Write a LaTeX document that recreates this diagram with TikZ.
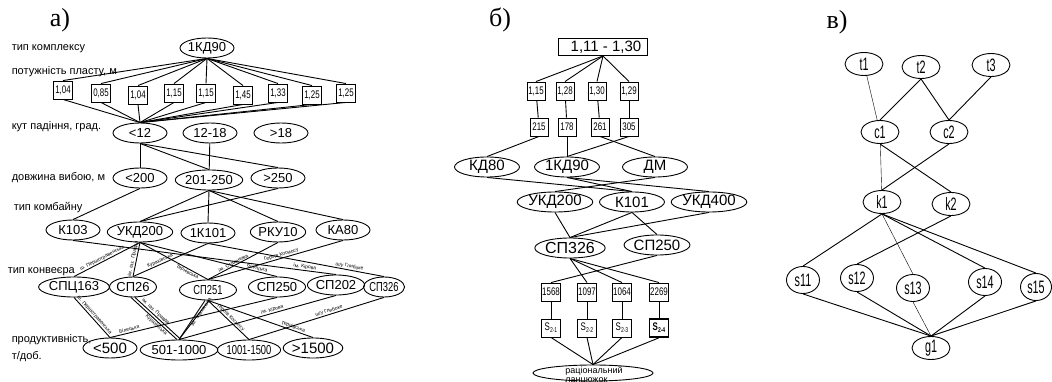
\documentclass[tikz,border=0pt]{standalone}
\usepackage{fontspec}
\setmainfont{Liberation Sans}
\newfontfamily\serifletter{Liberation Serif}
\newfontfamily\narrowsf[FakeStretch=0.72]{Liberation Sans}
\newfontfamily\narrowvx[FakeStretch=0.6]{Liberation Sans}
\usetikzlibrary{shapes.geometric}

\begin{document}
\begin{tikzpicture}[x=1pt,y=-1pt,line width=0.9pt,
  lvl/.style={anchor=west,font=\fontsize{11}{13}\selectfont},
  ov/.style={draw,ellipse,inner sep=0pt,minimum width=54pt,minimum height=20pt,font=\fontsize{13}{13}\selectfont},
  ovn/.style={ov,font=\narrowsf\fontsize{13}{13}\selectfont},
  ovb/.style={ov,minimum width=65pt,font=\fontsize{15}{15}\selectfont},
  val/.style={draw,inner sep=0pt,minimum width=19pt,minimum height=18pt,font=\narrowsf\fontsize{11}{11}\selectfont},
  mine/.style={sloped,above,inner sep=0.6pt,font=\fontsize{5}{5}\selectfont},
  vx/.style={draw,ellipse,inner sep=0pt,minimum width=38pt,minimum height=23pt,font=\narrowvx\fontsize{18}{18}\selectfont},
  sx/.style={vx,minimum width=33pt,minimum height=27pt},
  thinedge/.style={line width=0.4pt},
  panel/.style={font=\serifletter\fontsize{26}{26}\selectfont}]
\useasboundingbox (0,0) rectangle (1052,382);

\node[panel] (pa) at (60,20) {а)} ;
\node[panel] (pb) at (500,20) {б)} ;
\node[panel] (pc) at (837,22) {в)} ;

\node[lvl] (tcompl) at (8,49) {тип комплексу} ;
\node[lvl] (tpow) at (8,72) {потужність пласту, м} ;
\node[lvl] (tang) at (8,127) {кут падіння, град.} ;
\node[lvl] (tlen) at (8,178) {довжина вибою, м} ;
\node[lvl] (tcomb) at (10,208) {тип комбайну} ;
\node[lvl] (tconv) at (4,272) {тип конвеєра} ;
\node[lvl,align=left,font=\fontsize{11}{17}\selectfont] (tprod) at (8,348) {продуктивність,\\т/доб.} ;

\node[ov] (kd90) at (207,48) {1КД90} ;
\node[val] (p1) at (63,90) {1,04} ;
\node[val] (p2) at (101,93) {0,85} ;
\node[val] (p3) at (138,95) {1,04} ;
\node[val] (p4) at (174,93) {1,15} ;
\node[val] (p5) at (206,93) {1,15} ;
\node[val] (p6) at (243,95) {1,45} ;
\node[val] (p7) at (278,93) {1,33} ;
\node[val] (p8) at (312,95) {1,25} ;
\node[val] (p9) at (346,93) {1,25} ;

\node[ov] (a12) at (140,133) {<12} ;
\node[ov] (a1218) at (210,133) {12-18} ;
\node[ov] (a18) at (281,133) {>18} ;

\node[ov] (l200) at (140,178) {<200} ;
\node[ov] (l250) at (209,180) {201-250} ;
\node[ov] (g250) at (278,178) {>250} ;

\node[ov] (k103) at (73,230) {К103} ;
\node[ov] (ukd200) at (140,232) {УКД200} ;
\node[ov] (k101) at (208,233) {1К101} ;
\node[ov] (rku10) at (278,232) {РКУ10} ;
\node[ov] (ka80) at (343,230) {КА80} ;

\node[ov] (spc163) at (74,287) {СПЦ163} ;
\node[ov,minimum width=47pt] (sp26) at (133,287) {СП26} ;
\node[ovn,minimum width=57pt] (sp251) at (208,290) {СП251} ;
\node[ov] (sp250) at (277,287) {СП250} ;
\node[ov] (sp202) at (336,285) {СП202} ;
\node[ovn,minimum width=36pt] (sp326) at (384,287) {СП326} ;

\node[ov,font=\fontsize{15}{15}\selectfont] (p500) at (110,348) {<500} ;
\node[ov] (p1000) at (179,350) {501-1000} ;
\node[ovn] (p1500) at (249,350) {1001-1500} ;
\node[ov,font=\fontsize{15}{15}\selectfont] (pmax) at (313,348) {>1500} ;

\foreach \b in {p1,p2,p3,p4,p5,p6,p7,p8,p9}
  {\draw (kd90.south) -- (\b.north) ;
   \draw (\b.south) -- (a12.north) ;}

\draw (a12) -- (l200) ;
\draw (a12.south) -- (l250.north) ;
\draw (a12.south) -- (g250.north) ;
\draw (a1218) -- (l250) ;

\draw (l200.south) -- (k103.north) ;
\draw (l250.south) -- (ukd200.north) ;
\draw (l250.south) -- (k101.north) ;
\draw (l250.south) -- (rku10.north) ;
\draw (l250.south) -- (ka80.north) ;
\draw (g250.south) -- (ukd200.north) ;

\draw (ukd200.south) -- node[mine,pos=0.55]{ш. Першотравенська} (spc163.north) ;
\draw (ukd200.south) -- node[mine,pos=0.5]{ім. газ. Правда} (sp26.north) ;
\draw (ukd200.south) -- node[mine,below,pos=0.72]{Тернівська} (sp251.north) ;
\draw (ukd200.south) -- node[mine,pos=0.85]{Білецька} (sp250.north) ;
\draw (k103.south) -- node[mine,pos=0.88]{ім. Кірова} (sp202.north) ;
\draw (k101.south) -- node[mine,pos=0.62]{Курахівська} (sp26.north) ;
\draw (k101.south) -- node[mine,pos=0.8]{ш/у Глибоке} (sp326.north) ;
\draw (rku10.south) -- node[mine,pos=0.62]{ім. Стаханова} (sp251.north) ;
\draw (ka80.south) -- node[mine,pos=0.45]{Героїв Космосу} (sp251.north) ;

\draw (spc163.south) -- node[mine,pos=0.5]{ш. Першотравенська} (p500.north) ;
\draw ([xshift=-2pt]sp26.south) -- node[mine,below,pos=0.6]{Курахівська} ([xshift=-2pt]p1000.north) ;
\draw ([xshift=2pt]sp26.south) -- node[mine,pos=0.4]{ім. газ. Правда} ([xshift=2pt]p1000.north) ;
\draw ([xshift=-3pt]sp251.south) -- node[mine,below,pos=0.25]{ім. Стаханова} (p1000.north) ;
\draw ([xshift=1pt]sp251.south) -- (p1000.north) ;
\draw (sp250.south) -- node[mine,pos=0.88]{Білецька} (p500.north) ;
\draw (sp202.south) -- node[mine,pos=0.4]{ім. Кірова} (p1000.north) ;
\draw (sp251.south) -- node[mine,pos=0.5]{Героїв Космосу} (p1500.north) ;
\draw (sp251.south) -- node[mine,pos=0.8]{Тернівська} (pmax.north) ;
\draw (sp326.south) -- node[mine,pos=0.4]{ш/у Глибоке} (p1500.north) ;

\node[draw,inner sep=0pt,minimum width=89pt,minimum height=17pt,font=\fontsize{15}{15}\selectfont] (range) at (603,47) {\hspace*{6pt}1,11 - 1,30} ;
\node[val,minimum width=18pt] (b1) at (536,91) {1,15} ;
\node[val,minimum width=18pt] (b2) at (565,91) {1,28} ;
\node[val,minimum width=18pt] (b3) at (597,91) {1,30} ;
\node[val,minimum width=18pt] (b4) at (629,91) {1,29} ;
\node[val,minimum width=18pt] (n215) at (539,127) {215} ;
\node[val,minimum width=18pt] (n178) at (567,127) {178} ;
\node[val,minimum width=18pt] (n261) at (600,127) {261} ;
\node[val,minimum width=18pt] (n305) at (629,127) {305} ;

\node[ovb] (kd80b) at (487,167) {КД80} ;
\node[ovb] (kd90b) at (567,167) {1КД90} ;
\node[ovb] (dm) at (655,167) {ДМ} ;
\node[ovb] (ukd200b) at (555,202) {УКД200} ;
\node[ovb] (k101b) at (632,202) {К101} ;
\node[ovb,minimum width=58pt] (ukd400b) at (709,202) {УКД400} ;
\node[ovb,font=\fontsize{16}{16}\selectfont] (sp326b) at (570,248) {СП326} ;
\node[ovb] (sp250b) at (657,245) {СП250} ;

\node[val] (v1568) at (551,292) {1568} ;
\node[val] (v1097) at (587,292) {1097} ;
\node[val] (v1064) at (622,292) {1064} ;
\node[val] (v2269) at (659,292) {2269} ;
\node[val] (s21) at (551,328) {S\raisebox{-2pt}{\fontsize{7}{7}\selectfont 2-1}} ;
\node[val] (s22) at (587,328) {S\raisebox{-2pt}{\fontsize{7}{7}\selectfont 2-2}} ;
\node[val] (s23) at (622,328) {S\raisebox{-2pt}{\fontsize{7}{7}\selectfont 2-3}} ;
\node[val,line width=1.6pt] (s24) at (659,328) {\bfseries S\raisebox{-2pt}{\fontsize{7}{7}\selectfont 2-4}} ;

\node[draw,ellipse,inner sep=0pt,minimum width=120pt,minimum height=16pt] (rat) at (593,373) {} ;
\node[anchor=north west,align=left,inner sep=0pt,font=\fontsize{9}{9}\selectfont] (rattext) at (565,366) {раціональний\\ланцюжок} ;

\foreach \b in {b1,b2,b3,b4}
  \draw (range.south) -- (\b.north) ;
\draw (b1) -- (n215) ;
\draw (b2) -- (n178) ;
\draw (b3) -- (n261) ;
\draw (b4) -- (n305) ;
\draw (n215.south) -- (kd80b.north) ;
\draw (n178.south) -- (kd90b.north) ;
\draw (n305.south) -- (kd90b.north) ;
\draw (n261.south) -- (dm.north) ;

\draw (kd80b.south) -- (k101b.north) ;
\draw (kd90b.south) -- (k101b.north) ;
\draw (kd90b.south) -- (ukd400b.north) ;
\draw (dm.south) -- (ukd200b.north) ;

\draw (ukd200b.south) -- (sp326b.north) ;
\draw (k101b.south) -- (sp326b.north) ;
\draw (ukd400b.south) -- (sp326b.north) ;
\draw (k101b.south) -- (sp250b.north) ;

\draw (sp250b.south) -- (v1568.north) ;
\foreach \b in {v1097,v1064,v2269}
  \draw (sp326b.south) -- (\b.north) ;
\draw (v1568) -- (s21) ;
\draw (v1097) -- (s22) ;
\draw (v1064) -- (s23) ;
\draw (v2269) -- (s24) ;
\foreach \b in {s21,s22,s23,s24}
  \draw (\b.south) -- (rat.north) ;

\node[vx] (t1) at (864,64) {t1} ;
\node[vx] (t2) at (921,67) {t2} ;
\node[vx] (t3) at (991,65) {t3} ;
\node[vx] (c1) at (880,132) {c1} ;
\node[vx] (c2) at (949,132) {c2} ;
\node[vx] (k1) at (882,202) {k1} ;
\node[vx] (k2) at (951,204) {k2} ;
\node[sx] (s11) at (803,280) {s11} ;
\node[sx] (s12) at (857,278) {s12} ;
\node[sx] (s13) at (913,288) {s13} ;
\node[sx] (s14) at (985,282) {s14} ;
\node[sx,minimum width=31pt] (s15) at (1036,287) {s15} ;
\node[vx] (g1) at (931,348) {g1} ;

\draw[thinedge] (t1) -- (c1) ;
\draw (t2.south) -- (c1.north) ;
\draw (t2.south) -- (c2.north) ;
\draw (t3.south) -- (c2.north) ;
\draw[thinedge] (c1) -- (k1) ;
\draw (c1.south) -- (k2.north) ;
\draw (c2.south) -- (k1.north) ;
\draw (k1.south) -- (s11.north) ;
\draw[thinedge] (k1.south) -- (s13.north) ;
\draw (k1.south) -- (s14.north) ;
\draw (k1.south) -- (s15.north) ;
\draw (k2.south) -- (s12.north) ;
\draw (s11.south) -- (g1.north) ;
\draw (s12.south) -- (g1.north) ;
\draw[thinedge] (s13.south) -- (g1.north) ;
\draw (s14.south) -- (g1.north) ;
\draw (s15.south) -- (g1.north) ;
\end{tikzpicture}
\end{document}
